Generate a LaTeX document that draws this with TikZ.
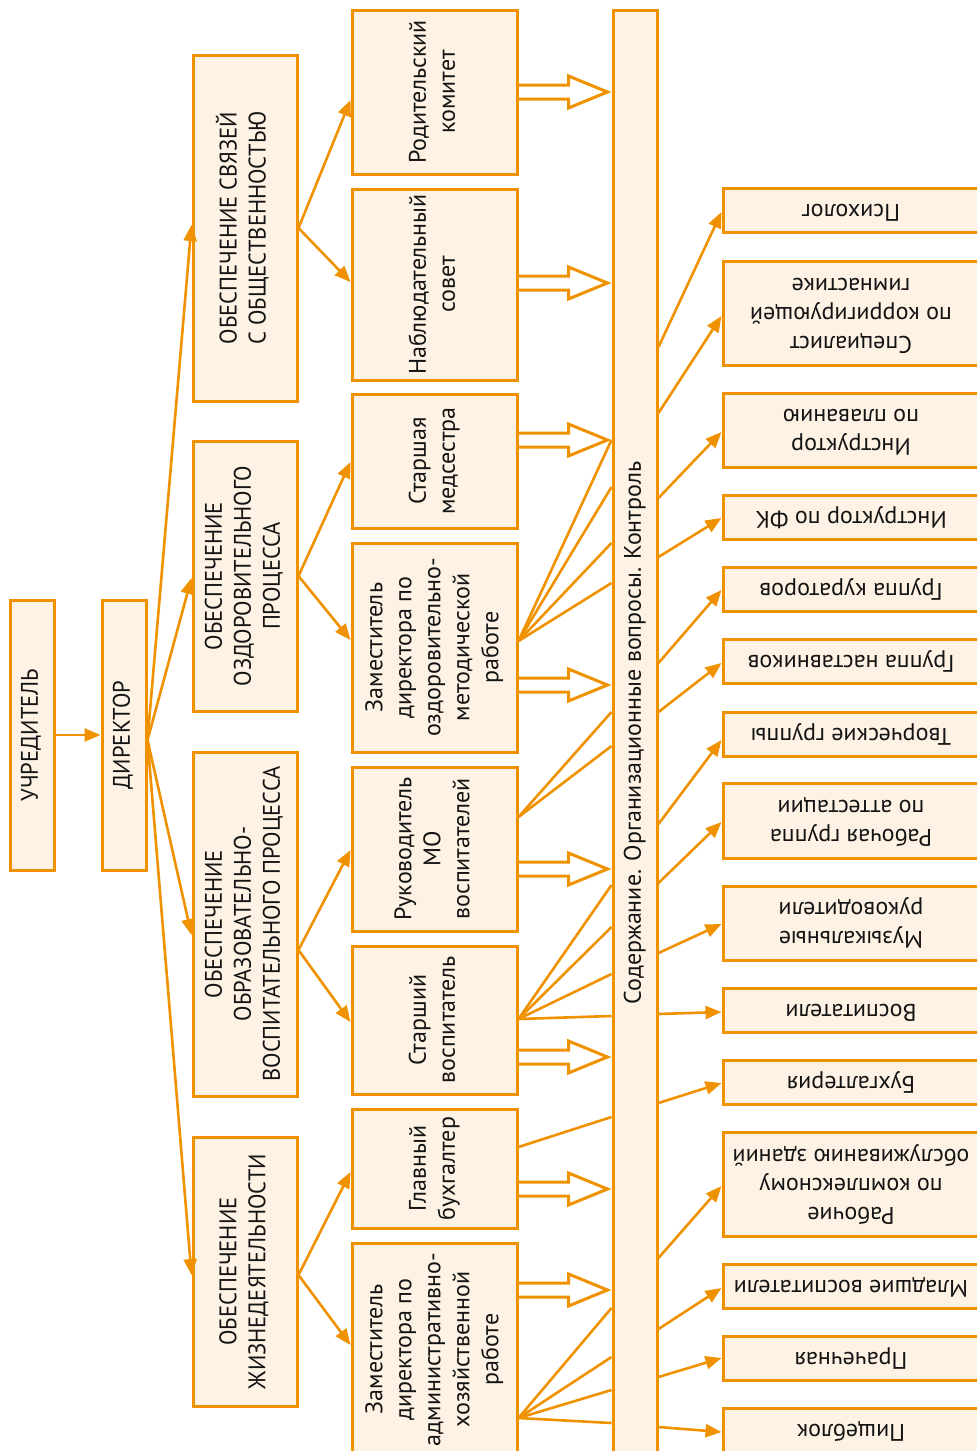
\documentclass[tikz,border=0pt]{standalone}
\usepackage{graphicx}
\usepackage{fontspec}
\setmainfont{PT Sans}
\newfontfamily\capsfont[FakeStretch=0.94]{PT Sans}
\usetikzlibrary{arrows.meta,calc}
\definecolor{orng}{RGB}{240,146,0}
\definecolor{cream}{RGB}{253,242,228}
\definecolor{txt}{RGB}{20,20,20}
\newcommand\vt[1]{\rotatebox{90}{\begin{tabular}{@{}c@{}}#1\end{tabular}}}
\newcommand\ut[1]{\rotatebox{180}{\begin{tabular}{@{}c@{}}#1\end{tabular}}}
\newcommand\darr[2]{%
 \draw[dbl] ($(#1.east|-0,#2)+(0,-7)$) -- ($(bar.west|-0,#2)+(-43,-7)$) -- ($(bar.west|-0,#2)+(-43,-16)$) -- ($(bar.west|-0,#2)+(-4,0)$) -- ($(bar.west|-0,#2)+(-43,16)$) -- ($(bar.west|-0,#2)+(-43,7)$) -- ($(#1.east|-0,#2)+(0,7)$);}
\begin{document}
\begin{tikzpicture}[x=1pt,y=-1pt,
  box/.style={draw=orng, fill=cream, line width=3pt, inner sep=0pt, text=txt, font=\fontsize{24}{29}\selectfont},
  capbox/.style={box, font=\fontsize{24}{29}\selectfont\capsfont},
  arr/.style={draw=orng, line width=2.6pt, -{Triangle[length=16pt,width=13pt]}},
  ln/.style={draw=orng, line width=2.6pt},
  dbl/.style={draw=orng, line width=3pt, line join=miter}]
\useasboundingbox (0,0) rectangle (977,1451);
\fill[white] (0,0) rectangle (977,1451);
% left column
\node[capbox, minimum width=44pt, minimum height=270pt] (uch) at (32,735) {\vt{УЧРЕДИТЕЛЬ}};
\node[capbox, minimum width=44pt, minimum height=270pt] (dir) at (124,735) {\vt{ДИРЕКТОР}};
% categories
\node[capbox, minimum width=104pt, minimum height=346pt] (ca) at (245,228) {\vt{ОБЕСПЕЧЕНИЕ СВЯЗЕЙ\\С ОБЩЕСТВЕННОСТЬЮ}};
\node[capbox, minimum width=104pt, minimum height=270pt] (cb) at (245,576) {\vt{ОБЕСПЕЧЕНИЕ\\ОЗДОРОВИТЕЛЬНОГО\\ПРОЦЕССА}};
\node[capbox, minimum width=104pt, minimum height=344pt] (cc) at (245,924) {\vt{ОБЕСПЕЧЕНИЕ\\ОБРАЗОВАТЕЛЬНО-\\ВОСПИТАТЕЛЬНОГО ПРОЦЕССА}};
\node[capbox, minimum width=104pt, minimum height=269pt] (cd) at (245,1271.5) {\vt{ОБЕСПЕЧЕНИЕ\\ЖИЗНЕДЕЯТЕЛЬНОСТИ}};
% sub boxes
\node[box, minimum width=165pt, minimum height=164pt] (rk) at (434.5,92) {\vt{Родительский\\комитет}};
\node[box, minimum width=165pt, minimum height=191pt] (ns) at (434.5,284.5) {\vt{Наблюдательный\\совет}};
\node[box, minimum width=165pt, minimum height=134pt] (sm) at (434.5,461) {\vt{Старшая\\медсестра}};
\node[box, minimum width=165pt, minimum height=209pt] (zo) at (434.5,647.5) {\vt{Заместитель\\директора по\\оздоровительно-\\методической\\работе}};
\node[box, minimum width=165pt, minimum height=164pt] (rm) at (434.5,849) {\vt{Руководитель\\МО\\воспитателей}};
\node[box, minimum width=165pt, minimum height=148pt] (sv) at (434.5,1020) {\vt{Старший\\воспитатель}};
\node[box, minimum width=165pt, minimum height=119pt] (gb) at (434.5,1168.5) {\vt{Главный\\бухгалтер}};
\node[box, minimum width=165pt, minimum height=213pt] (za) at (434.5,1349.5) {\vt{Заместитель\\директора по\\административно-\\хозяйственной\\работе}};
% central bar
\node[box, minimum width=44pt, minimum height=1446pt] (bar) at (635,733) {\vt{Содержание. Организационные вопросы. Контроль}};
% right boxes
\node[box, minimum width=256pt, minimum height=44pt] (ps) at (851,210) {\ut{Психолог}};
\node[box, minimum width=256pt, minimum height=104pt] (sk) at (851,313) {\ut{Специалист\\по корригирующей\\гимнастике}};
\node[box, minimum width=256pt, minimum height=74pt] (ip) at (851,430) {\ut{Инструктор\\по плаванию}};
\node[box, minimum width=256pt, minimum height=44pt] (if) at (851,517) {\ut{Инструктор по ФК}};
\node[box, minimum width=256pt, minimum height=44pt] (gk) at (851,589) {\ut{Группа кураторов}};
\node[box, minimum width=256pt, minimum height=44pt] (gn) at (851,661) {\ut{Группа наставников}};
\node[box, minimum width=256pt, minimum height=44pt] (tg) at (851,734) {\ut{Творческие группы}};
\node[box, minimum width=256pt, minimum height=75pt] (ra) at (851,820.5) {\ut{Рабочая группа\\по аттестации}};
\node[box, minimum width=256pt, minimum height=74pt] (mr) at (851,923) {\ut{Музыкальные\\руководители}};
\node[box, minimum width=256pt, minimum height=44pt] (vo) at (851,1010) {\ut{Воспитатели}};
\node[box, minimum width=256pt, minimum height=44pt] (bu) at (851,1082) {\ut{Бухгалтерия}};
\node[box, minimum width=256pt, minimum height=104pt] (rz) at (851,1184) {\ut{Рабочие\\по комплексному\\обслуживанию зданий}};
\node[box, minimum width=256pt, minimum height=44pt] (mv) at (851,1286.5) {\ut{Младшие воспитатели}};
\node[box, minimum width=256pt, minimum height=44pt] (pr) at (851,1358.5) {\ut{Прачечная}};
\node[box, minimum width=256pt, minimum height=45pt] (pb) at (851,1430.5) {\ut{Пищеблок}};
% founder -> director
\draw[arr] (uch.east) -- (dir.west);
% director -> categories
\draw[arr] (dir.east|-0,740) -- (ca.west|-0,225);
\draw[arr] (dir.east|-0,740) -- (cb.west|-0,578);
\draw[arr] (dir.east|-0,740) -- (cc.west|-0,935);
\draw[arr] (dir.east|-0,740) -- (cd.west|-0,1275);
% categories -> sub boxes
\draw[arr] (ca.east) -- (rk.west|-0,100);
\draw[arr] (ca.east) -- (ns.west|-0,282);
\draw[arr] (cb.east) -- (sm.west|-0,462);
\draw[arr] (cb.east) -- (zo.west|-0,640);
\draw[arr] (cc.east|-0,950) -- (rm.west|-0,850);
\draw[arr] (cc.east|-0,950) -- (sv.west|-0,1022);
\draw[arr] (cd.east|-0,1275) -- (gb.west|-0,1172);
\draw[arr] (cd.east|-0,1275) -- (za.west|-0,1345);
% fan lines into bar
\foreach \y in {440,487,543,583} \draw[ln] (zo.east|-0,641) -- (bar.west|-0,\y);
\foreach \y in {712,746} \draw[ln] (rm.east|-0,817) -- (bar.west|-0,\y);
\foreach \y in {885,927,974,1016} \draw[ln] (sv.east|-0,1019) -- (bar.west|-0,\y);
\draw[ln] (gb.east|-0,1147) -- (bar.west|-0,1117);
\foreach \y in {1308,1357,1390,1423} \draw[ln] (za.east|-0,1418) -- (bar.west|-0,\y);
% double (hollow) arrows into bar
\darr{rk}{92}
\darr{ns}{283}
\darr{sm}{440}
\darr{zo}{685}
\darr{rm}{869}
\darr{sv}{1057}
\darr{gb}{1189}
\darr{za}{1290}
% bar -> right boxes
\draw[arr] (bar.east|-0,347) -- (ps.west|-0,212);
\draw[arr] (bar.east|-0,413) -- (sk.west|-0,316);
\draw[arr] (bar.east|-0,498) -- (ip.west|-0,432);
\draw[arr] (bar.east|-0,557) -- (if.west|-0,518);
\draw[arr] (bar.east|-0,663) -- (gk.west|-0,590);
\draw[arr] (bar.east|-0,712) -- (gn.west|-0,663);
\draw[arr] (bar.east|-0,824) -- (tg.west|-0,740);
\draw[arr] (bar.east|-0,883) -- (ra.west|-0,822);
\draw[arr] (bar.east|-0,953) -- (mr.west|-0,924);
\draw[arr] (bar.east|-0,1014) -- (vo.west|-0,1012);
\draw[arr] (bar.east|-0,1103) -- (bu.west|-0,1083);
\draw[arr] (bar.east|-0,1258) -- (rz.west|-0,1186);
\draw[arr] (bar.east|-0,1329) -- (mv.west|-0,1288);
\draw[arr] (bar.east|-0,1377) -- (pr.west|-0,1358);
\draw[arr] (bar.east|-0,1427) -- (pb.west|-0,1432);
\end{tikzpicture}
\end{document}
